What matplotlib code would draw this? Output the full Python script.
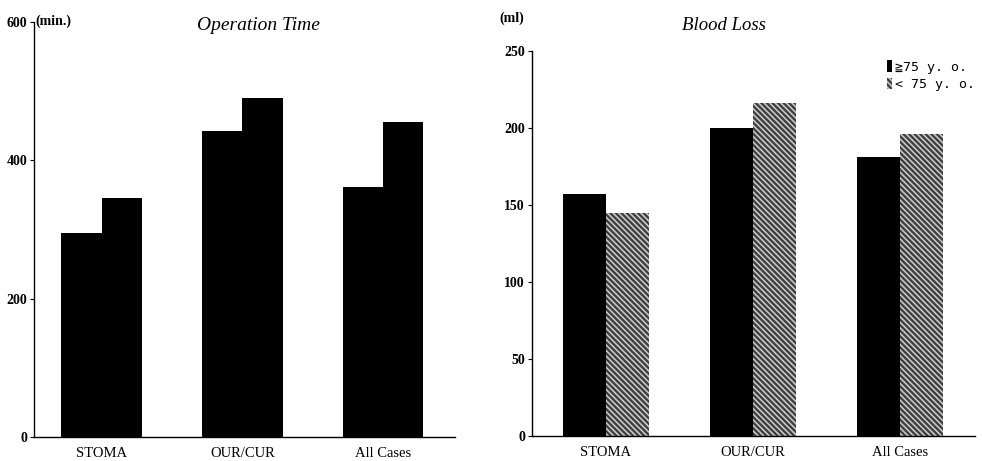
import matplotlib
matplotlib.use("Agg")
import matplotlib.pyplot as plt
import numpy as np

categories = ["STOMA", "OUR/CUR", "All Cases"]
op_time_old = [295, 443, 361]      # >=75 y.o.
op_time_young = [346, 490, 455]    # <75 y.o.
blood_old = [157, 200, 181]
blood_young = [145, 216, 196]
legend_labels = ["≧75 y. o.", "< 75 y. o."]
op_ticks = [0, 200, 400, 600]
bl_ticks = [0, 50, 100, 150, 200, 250]

plt.rcParams['hatch.linewidth'] = 1.1
serif = "Liberation Serif"

fig = plt.figure(figsize=(9.82, 4.61), dpi=100)
W, H = 982, 461

def axes_px(x0, y0, x1, y1):
    return fig.add_axes([x0 / W, 1 - y1 / H, (x1 - x0) / W, (y1 - y0) / H])

x = np.arange(len(categories))

# Left panel
ax1 = axes_px(34, 22, 455, 437)
w1 = 0.285
ax1.bar(x - w1 / 2, op_time_old, w1, color="black", linewidth=0)
ax1.bar(x + w1 / 2, op_time_young, w1, color="black", linewidth=0)
ax1.set_xlim(-0.48, 2.51)
ax1.set_ylim(0, 600)
ax1.set_yticks(op_ticks)

# Right panel
ax2 = axes_px(532, 51, 975, 436)
w2 = 0.29
b1 = ax2.bar(x - w2 / 2, blood_old, w2, color="black", linewidth=0)
b2 = ax2.bar(x + w2 / 2, blood_young, w2, facecolor="#404040", edgecolor="#cfcfcf",
             hatch="\\\\\\\\\\\\", linewidth=0)
ax2.set_xlim(-0.503, 2.51)
ax2.set_ylim(0, 250)
ax2.set_yticks(bl_ticks)

for ax in (ax1, ax2):
    for s in ("top", "right"):
        ax.spines[s].set_visible(False)
    ax.spines["left"].set_linewidth(1.0)
    ax.spines["bottom"].set_linewidth(1.0)
    ax.set_xticks(x)
    ax.set_xticklabels(categories, fontfamily=serif, fontsize=10.5)
    ax.tick_params(axis="x", length=0, pad=7)
    ax.tick_params(axis="y", length=3, width=0.8, pad=2)
    for t in ax.get_yticklabels():
        t.set_fontfamily(serif)
        t.set_fontweight("bold")
        t.set_fontsize(10)

# Titles and units
fig.text(258 / W, 1 - 26 / H, "Operation Time", fontfamily=serif, fontstyle="italic",
         fontsize=14, ha="center", va="center")
fig.text(724 / W, 1 - 25 / H, "Blood Loss", fontfamily=serif, fontstyle="italic",
         fontsize=13.5, ha="center", va="center")
fig.text(35 / W, 1 - 21 / H, "(min.)", fontfamily=serif, fontweight="bold",
         fontsize=10, ha="left", va="center")
fig.text(512 / W, 1 - 18 / H, "(ml)", fontfamily=serif, fontweight="bold",
         fontsize=10, ha="center", va="center")

leg = ax2.legend([b1, b2], legend_labels, loc="upper right",
                 bbox_to_anchor=(1.012, 0.99), frameon=False,
                 handlelength=0.35, handleheight=1.0, handletextpad=0.25,
                 labelspacing=0.3, borderaxespad=0,
                 prop={"family": ["DejaVu Sans Mono", "Noto Sans CJK JP"], "size": 9.5})

fig.savefig("out.png", dpi=100)
